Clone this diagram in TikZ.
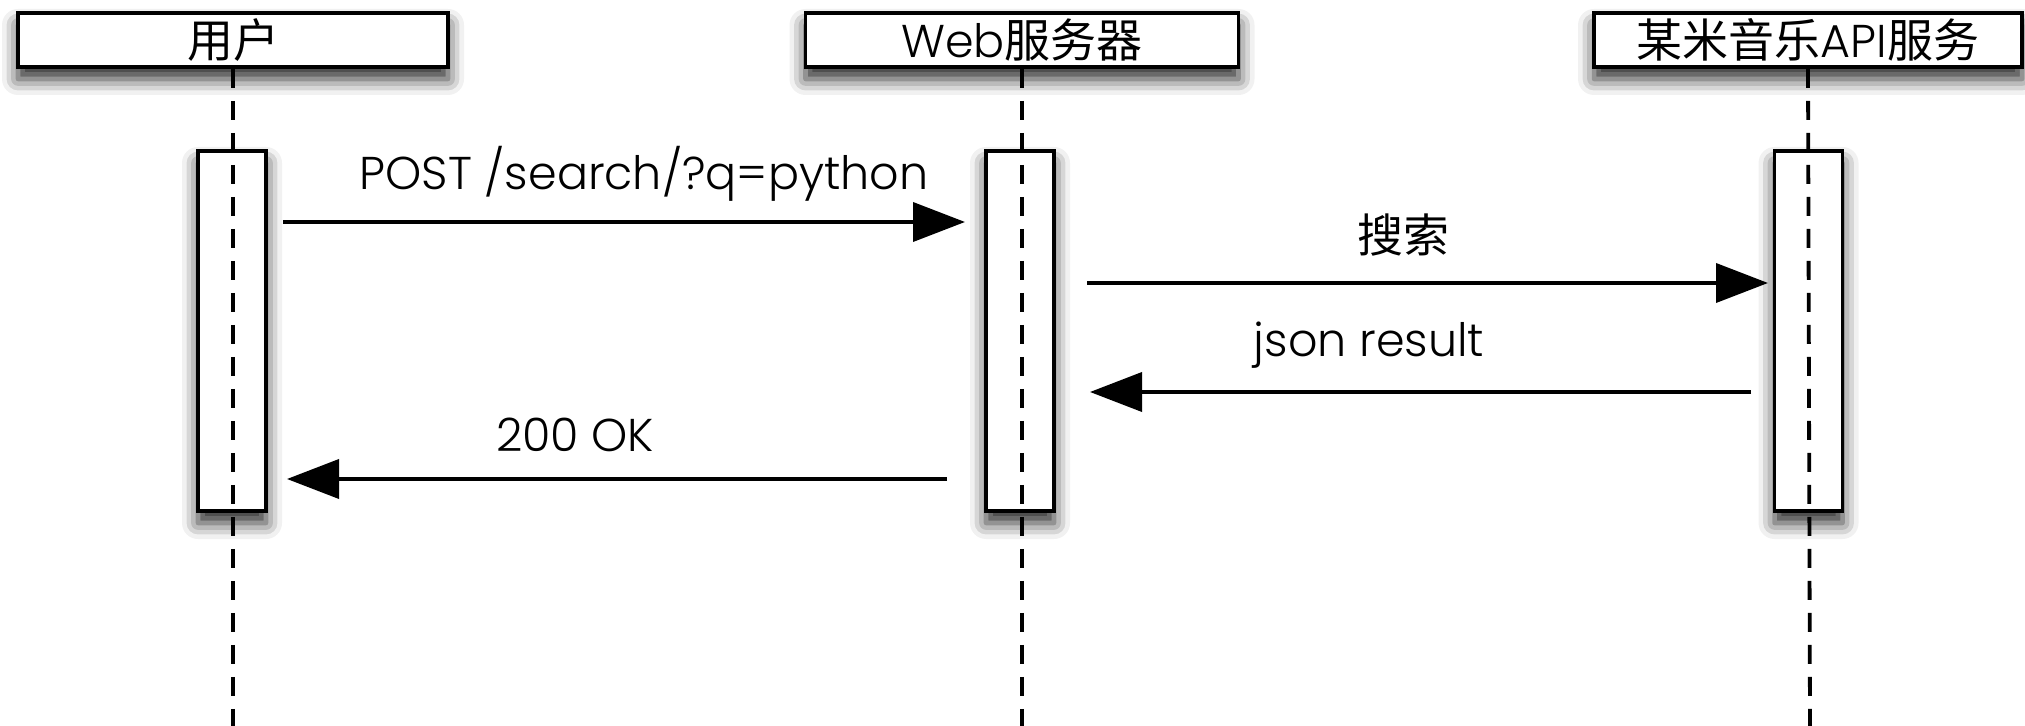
\documentclass[tikz,border=0pt]{standalone}
\usepackage{fontspec}
\setmainfont{Poppins}[UprightFont=* Light]
\newfontfamily\cjk{Noto Sans CJK SC}
\usetikzlibrary{arrows.meta,shadows.blur}
\tikzset{
  lw/.style={line width=1.9pt},
  shad/.style={blur shadow={shadow xshift=0pt, shadow yshift=-6pt, shadow blur radius=8pt, shadow opacity=85}},
  hdr/.style={draw, lw, fill=white, minimum height=27pt, inner sep=0pt, shad, font=\fontsize{23}{26}\selectfont},
  actbox/.style={draw, lw, fill=white, minimum width=34pt, minimum height=180pt, inner sep=0pt, shad},
  life/.style={lw, dash pattern=on 9.5pt off 6.5pt},
  msg/.style={lw, -{Triangle[length=26pt,width=19.5pt]}},
  lbl/.style={anchor=base, inner sep=0pt, font=\fontsize{23}{26}\selectfont}
}
\begin{document}
\begin{tikzpicture}[x=0.5pt,y=-0.5pt]
\useasboundingbox (0,0) rectangle (2025,726);
% headers
\node[hdr, minimum width=215pt] (hu) at (233,40) {{\cjk 用户}};
\node[hdr, minimum width=216.5pt] (hw) at (1022,40) {Web{\cjk 服务器}};
\node[hdr, minimum width=214pt] (ha) at (1808,40) {{\cjk 某米音乐}API{\cjk 服务}};
% activation boxes
\node[actbox] (au) at (232,331) {};
\node[actbox] (aw) at (1020,331) {};
\node[actbox] (aa) at (1808.5,331) {};
% lifelines
\coordinate (eu) at (233,726);
\coordinate (ew) at (1022,726);
\coordinate (ea) at (1810,726);
\draw[life] (hu.south) -- (eu);
\draw[life] (hw.south) -- (ew);
\draw[life] (ha.south) -- (ea);
% messages
\coordinate (m1s) at (283,222);
\coordinate (m1e) at (965,222);
\coordinate (m2s) at (1087,283);
\coordinate (m2e) at (1768,283);
\coordinate (m3s) at (1751,392);
\coordinate (m3e) at (1090,392);
\coordinate (m4s) at (947,479);
\coordinate (m4e) at (287,479);
\draw[msg] (m1s) -- (m1e);
\draw[msg] (m2s) -- (m2e);
\draw[msg] (m3s) -- (m3e);
\draw[msg] (m4s) -- (m4e);
% labels
\node[lbl] (l1) at (644,190) {POST /search/?q=python};
\node[lbl] (l2) at (1403,253) {{\cjk 搜索}};
\node[lbl] (l3) at (1369,357) {json result};
\node[lbl] (l4) at (575,452) {200 OK};
\end{tikzpicture}
\end{document}
